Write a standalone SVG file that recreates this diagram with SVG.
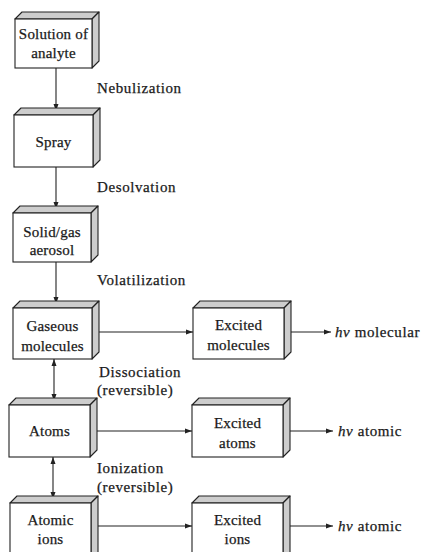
<svg xmlns="http://www.w3.org/2000/svg" width="428" height="552" viewBox="0 0 428 552">
<defs>
<style>
.face{fill:#fff;stroke:#222;stroke-width:1.1}
.bev{fill:#cdcdcd;stroke:#222;stroke-width:1.1;stroke-linejoin:round}
.t{font-family:"Liberation Serif","Times New Roman",serif;font-size:15px;fill:#1a1a1a;stroke:#1a1a1a;stroke-width:0.25px;letter-spacing:0.2px}
.bt{text-anchor:middle}
.lbl{font-family:"Liberation Serif","Times New Roman",serif;font-size:15px;fill:#1a1a1a;stroke:#1a1a1a;stroke-width:0.25px;letter-spacing:0.6px}
.ln{stroke:#222;stroke-width:1.1;fill:none}
</style>
<marker id="ah" markerWidth="8" markerHeight="6" refX="7" refY="3" orient="auto" markerUnits="userSpaceOnUse">
<path d="M0,0.5 L7,3 L0,5.5 Z" fill="#222"/>
</marker>
<marker id="as" markerWidth="8" markerHeight="6" refX="0" refY="3" orient="auto" markerUnits="userSpaceOnUse">
<path d="M7,0.5 L0,3 L7,5.5 Z" fill="#222"/>
</marker>
</defs>
<rect width="428" height="552" fill="#fff"/>

<g id="connectors">
<line class="ln" x1="56" y1="68" x2="56" y2="111" marker-end="url(#ah)"/>
<line class="ln" x1="56" y1="167" x2="56" y2="209" marker-end="url(#ah)"/>
<line class="ln" x1="56" y1="262" x2="56" y2="304" marker-end="url(#ah)"/>
<line class="ln" x1="54" y1="359" x2="54" y2="401" marker-start="url(#as)" marker-end="url(#ah)"/>
<line class="ln" x1="53" y1="457" x2="53" y2="499" marker-start="url(#as)" marker-end="url(#ah)"/>
<line class="ln" x1="95" y1="332" x2="193" y2="332" marker-end="url(#ah)"/>
<line class="ln" x1="94" y1="431" x2="192" y2="431" marker-end="url(#ah)"/>
<line class="ln" x1="94" y1="526" x2="192" y2="526" marker-end="url(#ah)"/>
<line class="ln" x1="287" y1="332" x2="331" y2="332" marker-end="url(#ah)"/>
<line class="ln" x1="286" y1="431" x2="333" y2="431" marker-end="url(#ah)"/>
<line class="ln" x1="286" y1="526" x2="333" y2="526" marker-end="url(#ah)"/>
</g>

<g id="solution">
<polygon class="bev" points="15,19 22,12 99,12 92,19"/>
<polygon class="bev" points="92,19 99,12 99,61 92,68"/>
<rect class="face" x="15" y="19" width="77" height="49"/>
<text class="t bt" x="53.5" y="39">Solution of</text>
<text class="t bt" x="53.5" y="58">analyte</text>
</g>

<g id="spray">
<polygon class="bev" points="14,115 21,108 100,108 93,115"/>
<polygon class="bev" points="93,115 100,108 100,160 93,167"/>
<rect class="face" x="14" y="115" width="79" height="52"/>
<text class="t bt" x="53.5" y="147">Spray</text>
</g>

<g id="aerosol">
<polygon class="bev" points="13,213 20,206 98,206 91,213"/>
<polygon class="bev" points="91,213 98,206 98,255 91,262"/>
<rect class="face" x="13" y="213" width="78" height="49"/>
<text class="t bt" x="52" y="237">Solid/gas</text>
<text class="t bt" x="52" y="255">aerosol</text>
</g>

<g id="gaseous">
<polygon class="bev" points="13,308 20,301 99,301 92,308"/>
<polygon class="bev" points="92,308 99,301 99,352 92,359"/>
<rect class="face" x="13" y="308" width="79" height="51"/>
<text class="t bt" x="52.5" y="331">Gaseous</text>
<text class="t bt" x="52.5" y="351">molecules</text>
</g>

<g id="atoms">
<polygon class="bev" points="9,405 16,398 97,398 90,405"/>
<polygon class="bev" points="90,405 97,398 97,450 90,457"/>
<rect class="face" x="9" y="405" width="81" height="52"/>
<text class="t bt" x="49.5" y="436">Atoms</text>
</g>

<g id="ions">
<polygon class="bev" points="10,503 17,496 98,496 91,503"/>
<polygon class="bev" points="91,503 98,496 98,553 91,560"/>
<rect class="face" x="10" y="503" width="81" height="57"/>
<text class="t bt" x="50.5" y="525">Atomic</text>
<text class="t bt" x="50.5" y="544">ions</text>
</g>

<g id="exmol">
<polygon class="bev" points="193,308 200,301 291,301 284,308"/>
<polygon class="bev" points="284,308 291,301 291,352 284,359"/>
<rect class="face" x="193" y="308" width="91" height="51"/>
<text class="t bt" x="238.5" y="330">Excited</text>
<text class="t bt" x="238.5" y="350">molecules</text>
</g>

<g id="exatoms">
<polygon class="bev" points="192,405 199,398 290,398 283,405"/>
<polygon class="bev" points="283,405 290,398 290,450 283,457"/>
<rect class="face" x="192" y="405" width="91" height="52"/>
<text class="t bt" x="237.5" y="428">Excited</text>
<text class="t bt" x="237.5" y="448">atoms</text>
</g>

<g id="exions">
<polygon class="bev" points="192,503 199,496 290,496 283,503"/>
<polygon class="bev" points="283,503 290,496 290,553 283,560"/>
<rect class="face" x="192" y="503" width="91" height="57"/>
<text class="t bt" x="237.5" y="525">Excited</text>
<text class="t bt" x="237.5" y="544">ions</text>
</g>

<g id="labels">
<text class="lbl" x="97" y="93">Nebulization</text>
<text class="lbl" x="97" y="192">Desolvation</text>
<text class="lbl" x="97" y="285">Volatilization</text>
<text class="lbl" x="99" y="377">Dissociation</text>
<text class="lbl" x="97" y="395">(reversible)</text>
<text class="lbl" x="97" y="473">Ionization</text>
<text class="lbl" x="97" y="492">(reversible)</text>
<text class="lbl" x="335" y="337"><tspan font-style="italic">hν</tspan> molecular</text>
<text class="lbl" x="338" y="436"><tspan font-style="italic">hν</tspan> atomic</text>
<text class="lbl" x="338" y="531"><tspan font-style="italic">hν</tspan> atomic</text>
</g>
</svg>
